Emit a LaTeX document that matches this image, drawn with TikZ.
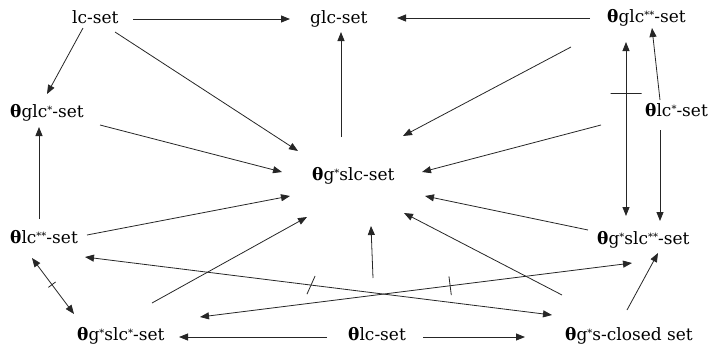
\documentclass[tikz,border=0pt]{standalone}
\usepackage{fontspec}
\setmainfont{DejaVu Serif}
\usetikzlibrary{arrows.meta,calc}
\newcommand{\thb}{{\bfseries θ}}
\newcommand{\sta}{\raisebox{3.5pt}{\fontsize{10}{10}\selectfont *}}
\begin{document}
\begin{tikzpicture}[x=1pt,y=-1pt,
  lbl/.style={anchor=base west, inner sep=0pt, font=\fontsize{17}{20}\selectfont},
  con/.style={line width=0.8pt, draw=black!85},
  arr/.style={con, -{Triangle[length=9pt,width=7pt]}},
  darr/.style={con, {Triangle[length=9pt,width=7pt]}-{Triangle[length=9pt,width=7pt]}},
  tk/.style={draw=black!85, line width=0.8pt, inner sep=0pt, minimum width=0pt, minimum height=#1, sloped, shape=rectangle}]
\useasboundingbox (0,0) rectangle (713,346);

\node[lbl] (lc) at (72,23) {lc-set};
\node[lbl] (glc) at (310,23) {glc-set};
\node[lbl] (tglcss) at (607,22) {\thb glc\sta\sta-set};
\node[lbl] (tglcs) at (10,117) {\thb glc\sta-set};
\node[lbl] (tlcs) at (645,116) {\thb lc\sta-set};
\node[lbl] (tgslc) at (312,180) {\thb g\sta slc-set};
\node[lbl] (tlcss) at (10,243) {\thb lc\sta\sta-set};
\node[lbl] (tgslcss) at (597,244) {\thb g\sta slc\sta\sta-set};
\node[lbl] (tgslcs) at (77,340) {\thb g\sta slc\sta-set};
\node[lbl] (tlc) at (348,340) {\thb lc-set};
\node[lbl] (tgscl) at (565,340) {\thb g\sta s-closed set};

% top row
\draw[arr] ($(lc.base west)+(61,-4)$) -- ($(glc.base west)+(-20,-4)$);
\draw[arr] ($(tglcss.base west)+(-17,-4)$) -- ($(glc.base west)+(87,-5)$);
\draw[arr] ($(lc.base west)+(11,5)$) -- ($(tglcs.base west)+(37,-23)$);
\draw[arr] ($(lc.base west)+(43,9)$) -- ($(tgslc.base west)+(-14,-29)$);
\draw[arr] ($(tgslc.base west)+(29,-43)$) -- ($(glc.base west)+(31,9)$);
\draw[arr] ($(tglcss.base west)+(-36,25)$) -- ($(tgslc.base west)+(91,-44)$);
\draw[arr] ($(tglcs.base west)+(90,8)$) -- ($(tgslc.base west)+(-30,-8)$);
\draw[arr] ($(tlcss.base west)+(29,-24)$) -- ($(tglcs.base west)+(29,10)$);
\draw[arr] ($(tlcss.base west)+(77,-8)$) -- ($(tgslc.base west)+(-22,16)$);
\draw[arr] ($(tlcs.base west)+(-44,9)$) -- ($(tgslc.base west)+(110,-8)$);
\draw[arr] ($(tgslcss.base west)+(-9,-14)$) -- ($(tgslc.base west)+(113,16)$);
\draw[arr] ($(tgscl.base west)+(-3,-45)$) -- ($(tgslc.base west)+(92,33)$);
\draw[arr] ($(tlc.base west)+(25,-62)$) -- ($(tgslc.base west)+(59,46)$);
\draw[arr] ($(tgslcs.base west)+(75,-37)$) -- ($(tgslc.base west)+(-5,37)$);

% right side
\draw[darr] ($(tglcss.base west)+(19,20)$) -- node[tk=31pt, pos=0.293]{} ($(tgslcss.base west)+(29,-28)$);
\draw[arr] ($(tlcs.base west)+(15,-16)$) -- ($(tglcss.base west)+(45,6)$);
\draw[arr] ($(tlcs.base west)+(15,14)$) -- ($(tgslcss.base west)+(63,-23)$);

% lower crossing lines
\draw[darr] ($(tlcss.base west)+(22,15)$) -- node[tk=9pt, pos=0.476]{} ($(tgslcs.base west)+(-3,-26)$);
\draw[darr] ($(tlcss.base west)+(75,14)$) -- node[tk=20pt, pos=0.484, rotate=-17]{} ($(tgscl.base west)+(-13,-25)$);
\draw[darr] ($(tgslcs.base west)+(123,-23)$) -- node[tk=19pt, pos=0.579]{} ($(tgslcss.base west)+(35,19)$);

% bottom row
\draw[arr] ($(tlc.base west)+(-21,-3)$) -- ($(tgslcs.base west)+(102,-3)$);
\draw[arr] ($(tlc.base west)+(75,-3)$) -- ($(tgscl.base west)+(-40,-3)$);
\draw[arr] ($(tgscl.base west)+(62,-30)$) -- ($(tgslcss.base west)+(61,9)$);
\end{tikzpicture}
\end{document}
